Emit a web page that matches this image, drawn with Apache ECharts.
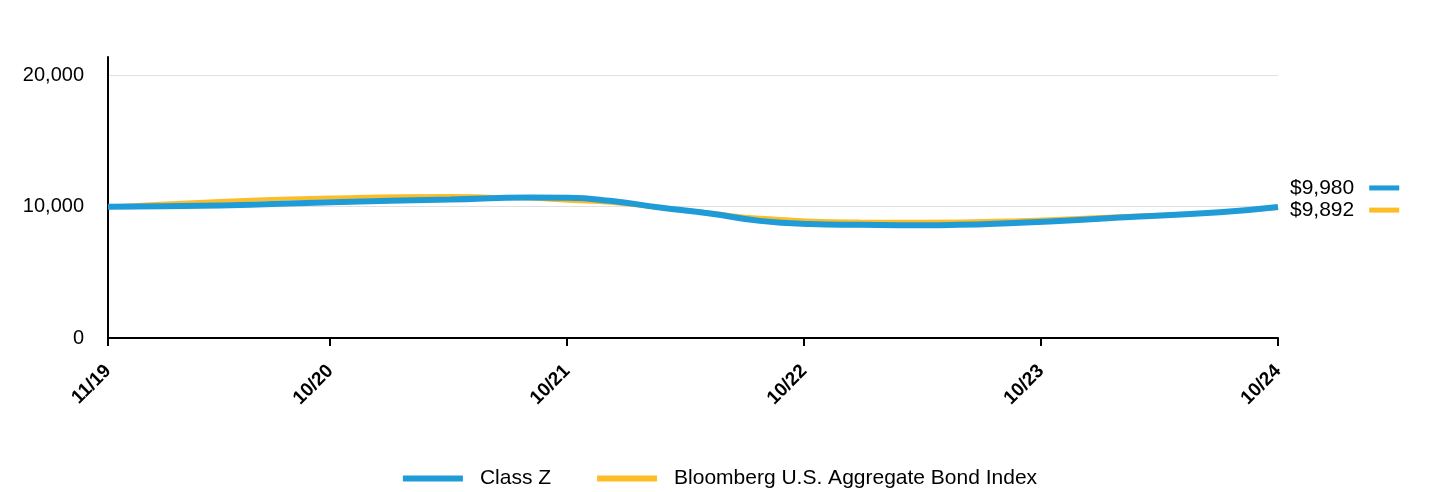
<!DOCTYPE html>
<html>
<head>
<meta charset="utf-8">
<script src="https://cdn.jsdelivr.net/npm/echarts@6/dist/echarts.min.js"></script>
<style>
html,body{margin:0;padding:0;background:#fff;}
#chart{width:1440px;height:492px;}
</style>
</head>
<body>
<div id="chart"></div>
<script>
// x values are months since the start (mid-November 2019)
const xTickLabels = ['11/19', '10/20', '10/21', '10/22', '10/23', '10/24'];
const xTickPos = [0, 11.25, 23.25, 35.25, 47.25, 59.25];
const yTicks = [0, 10000, 20000];

const classZMonths = [0, 5.67, 11.29, 17.32, 21.37, 23.29, 25.42, 27.95, 30.48, 33.01, 35.54, 38.08, 41.11, 46.18, 51.24, 56.30, 59.25];
const classZValues = [10000, 10090, 10340, 10550, 10700, 10680, 10450, 9940, 9480, 8920, 8680, 8620, 8580, 8770, 9180, 9580, 9980];

const indexMonths = [0, 5.67, 11.29, 17.32, 21.37, 23.29, 25.42, 27.95, 30.48, 33.01, 38.08, 41.11, 46.18, 51.24, 56.30, 59.25];
const indexValues = [10000, 10440, 10700, 10820, 10620, 10450, 10300, 9900, 9550, 9150, 8870, 8850, 8970, 9280, 9580, 9892];

const seriesNames = ['Class Z', 'Bloomberg U.S. Aggregate Bond Index'];
const colors = ['#1f9bd7', '#fdbd26'];

function pairs(xs, ys) { return xs.map((x, i) => [x, ys[i]]); }
function money(v) { return '$' + v.toLocaleString('en-US'); }

const FONT = 'Liberation Sans, Arial, sans-serif';
const chart = echarts.init(document.getElementById('chart'), null, {renderer: 'canvas'});

function endLabel(color, offsetY) {
  return {
    show: true,
    distance: 12,
    offset: [0, offsetY],
    formatter: p => '{t|' + money(p.value[1]) + '}{s|}{b|}',
    rich: {
      t: {fontSize: 21, color: '#000', fontFamily: FONT},
      s: {width: 15, height: 5},
      b: {width: 30, height: 5, backgroundColor: color}
    }
  };
}

chart.setOption({
  animation: false,
  backgroundColor: '#fff',
  grid: {left: 108, right: 162, top: 57, bottom: 154, containLabel: false},
  legend: {
    data: seriesNames,
    top: 463,
    left: 'center',
    icon: 'rect',
    itemWidth: 60,
    itemHeight: 6,
    itemGap: 46,
    textStyle: {fontSize: 21, color: '#000', fontFamily: FONT, padding: [0, 0, 0, 12]}
  },
  xAxis: {
    type: 'value',
    min: 0,
    max: xTickPos[xTickPos.length - 1],
    splitLine: {show: false},
    axisLine: {show: true, onZero: false, lineStyle: {color: '#000', width: 2}},
    axisTick: {show: true, length: 8, lineStyle: {color: '#000', width: 2}, customValues: xTickPos},
    axisLabel: {
      customValues: xTickPos,
      rotate: 45,
      margin: 30,
      fontSize: 19,
      fontWeight: 'bold',
      color: '#000',
      fontFamily: FONT,
      formatter: v => {
        let best = 0;
        xTickPos.forEach((p, i) => { if (Math.abs(p - v) < Math.abs(xTickPos[best] - v)) best = i; });
        return xTickLabels[best];
      }
    }
  },
  yAxis: {
    type: 'value',
    min: 0,
    max: 21400,
    axisLine: {show: true, lineStyle: {color: '#000', width: 2}},
    axisTick: {show: false, customValues: yTicks},
    splitLine: {show: true, lineStyle: {color: '#e0e0e0', width: 1}},
    axisLabel: {
      customValues: yTicks,
      margin: 24,
      fontSize: 20,
      color: '#000',
      fontFamily: FONT,
      formatter: v => v.toLocaleString('en-US')
    }
  },
  series: [
    {
      name: seriesNames[1],
      type: 'line',
      data: pairs(indexMonths, indexValues),
      smooth: 0.5,
      showSymbol: false,
      symbol: 'none',
      z: 2,
      itemStyle: {color: colors[1]},
      lineStyle: {color: colors[1], width: 4},
      endLabel: endLabel(colors[1], 2)
    },
    {
      name: seriesNames[0],
      type: 'line',
      data: pairs(classZMonths, classZValues),
      smooth: 0.5,
      showSymbol: false,
      symbol: 'none',
      z: 3,
      itemStyle: {color: colors[0]},
      lineStyle: {color: colors[0], width: 6},
      endLabel: endLabel(colors[0], -19)
    }
  ]
});
</script>
</body>
</html>
